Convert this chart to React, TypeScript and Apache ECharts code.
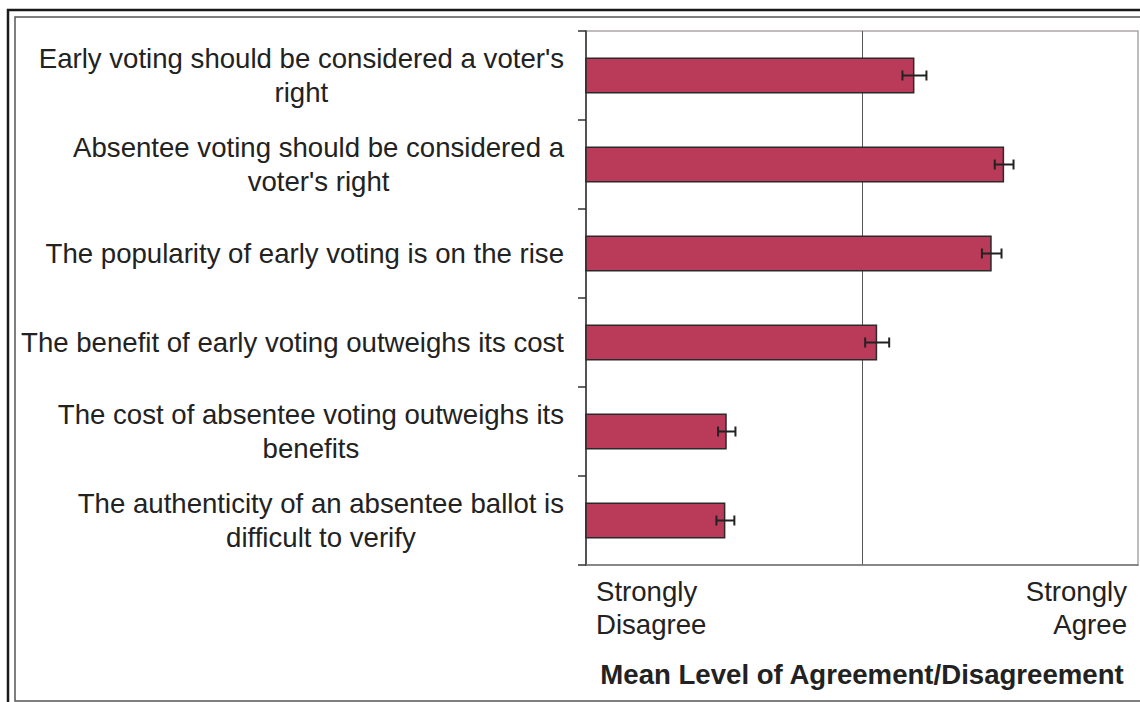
import React, { useEffect, useRef } from 'react';
import * as echarts from 'echarts';

const categories = [
  "Early voting should be considered a voter's\nright",
  "Absentee voting should be considered a\nvoter's right",
  'The popularity of early voting is on the rise',
  'The benefit of early voting outweighs its cost',
  'The cost of absentee voting outweighs its\nbenefits',
  'The authenticity of an absentee ballot is\ndifficult to verify',
];
const means = [3.38, 4.03, 3.94, 3.11, 2.02, 2.01];
const errors = [0.087, 0.068, 0.071, 0.087, 0.063, 0.065];
const xMin = 1;
const xMax = 5;
const xTickValues = [1, 3, 5];
const xTickLabels = ['Strongly\nDisagree', '', 'Strongly\nAgree'];
const xAxisTitle = 'Mean Level of Agreement/Disagreement';

const FONT = "'Liberation Sans', Arial, sans-serif";
const TEXT = '#222222';

export default function App() {
  const ref = useRef<HTMLDivElement>(null);
  useEffect(() => {
    if (!ref.current) return;
    const chart = echarts.init(ref.current, undefined, { renderer: 'svg' });
    const errData = means.map((m, i) => [m - errors[i], m + errors[i], i]);
    chart.setOption({
      animation: false,
      backgroundColor: '#ffffff',
      textStyle: { fontFamily: FONT },
      graphic: [
        {
          type: 'rect',
          shape: { x: 8, y: 10, width: 1160, height: 720 },
          style: { fill: 'none', stroke: '#1a1a1a', lineWidth: 2.5 },
          silent: true,
        },
        {
          type: 'rect',
          shape: { x: 15, y: 17, width: 1150, height: 684 },
          style: { fill: 'none', stroke: '#555555', lineWidth: 1.5 },
          silent: true,
        },
      ],
      grid: {
        left: 586,
        right: 2,
        top: 31,
        bottom: 137,
        show: true,
        borderColor: '#aca6a6',
        borderWidth: 1.5,
        containLabel: false,
        outerBoundsMode: 'none',
      },
      xAxis: {
        type: 'value',
        min: xMin,
        max: xMax,
        interval: 2,
        axisLine: { show: true, lineStyle: { color: '#777777', width: 1.5 } },
        axisTick: { show: false },
        splitLine: {
          show: true,
          showMinLine: false,
          showMaxLine: false,
          lineStyle: { color: '#555555', width: 1 },
        },
        axisLabel: {
          show: true,
          margin: 10,
          fontSize: 27.6,
          lineHeight: 33,
          color: TEXT,
          fontFamily: FONT,
          alignMinLabel: 'left',
          alignMaxLabel: 'right',
          padding: [0, 11, 0, 10],
          formatter: (v: number) => {
            const idx = xTickValues.indexOf(v);
            return idx >= 0 ? xTickLabels[idx] : '';
          },
        },
        name: xAxisTitle,
        nameLocation: 'middle',
        nameGap: 95,
        nameTextStyle: {
          fontSize: 27.6,
          fontWeight: 'bold',
          color: TEXT,
          fontFamily: FONT,
        },
      },
      yAxis: {
        type: 'category',
        inverse: true,
        data: categories,
        axisLine: { show: true, lineStyle: { color: '#333333', width: 1.5 } },
        axisTick: { show: true, length: 8, lineStyle: { color: '#333333', width: 1.5 } },
        splitLine: { show: false },
        axisLabel: {
          margin: 22,
          align: 'right',
          formatter: (v: string) =>
            v
              .split('\n')
              .map((l) => '{c|' + l + '}')
              .join('\n'),
          rich: {
            c: {
              align: 'center',
              fontSize: 27.6,
              lineHeight: 34,
              color: TEXT,
              fontFamily: FONT,
            },
          },
        },
      },
      series: [
        {
          type: 'bar',
          data: means,
          barWidth: 36,
          itemStyle: {
            color: '#ba3b59',
            borderColor: '#2a2a2a',
            borderWidth: 1.5,
          },
          z: 2,
        },
        {
          type: 'custom',
          data: errData,
          encode: { x: [0, 1], y: 2 },
          z: 5,
          renderItem: (params: any, api: any) => {
            const lo = api.coord([api.value(0), api.value(2)]);
            const hi = api.coord([api.value(1), api.value(2)]);
            const y = lo[1];
            const cap = 5;
            const style = { stroke: '#222222', lineWidth: 2 };
            return {
              type: 'group',
              children: [
                { type: 'line', shape: { x1: lo[0], y1: y, x2: hi[0], y2: y }, style },
                { type: 'line', shape: { x1: lo[0], y1: y - cap, x2: lo[0], y2: y + cap }, style },
                { type: 'line', shape: { x1: hi[0], y1: y - cap, x2: hi[0], y2: y + cap }, style },
              ],
            };
          },
        },
      ],
    });
    return () => chart.dispose();
  }, []);
  return (
    <div
      ref={ref}
      style={{ position: 'fixed', left: 0, top: 0, width: 1140, height: 702 }}
    />
  );
}
